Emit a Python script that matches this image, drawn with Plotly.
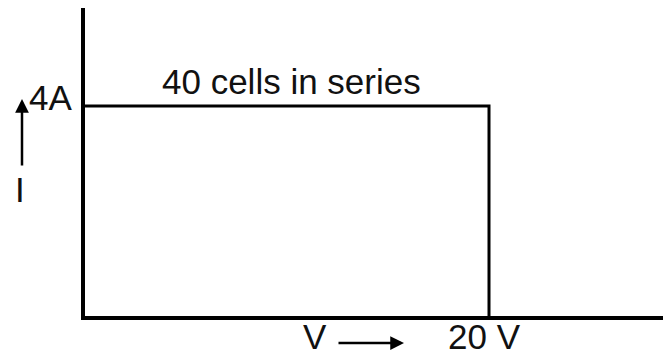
import plotly.graph_objects as go

# I-V characteristic of the module (ideal, rectangular)
volts = [0, 20, 20]
amps = [4, 4, 0]
x_tick_vals = [20]
x_tick_text = ['20 V']
y_tick_vals = [4]
y_tick_text = ['4A']
caption = '40 cells in series'

W, H = 663, 357
L, R, T, B = 85, 0, 8, 41
PW, PH = W - L - R, H - T - B
X_MAX = (W - L) / 20.2
Y_MAX = (H - B - T) / 52.5


def px(x):
    return (x - L) / PW


def py(y):
    return (H - B - y) / PH


FONT = dict(family='Liberation Sans, Arial, sans-serif', size=35, color='#111')

fig = go.Figure(go.Scatter(
    x=volts, y=amps, mode='lines',
    line=dict(color='black', width=3),
    cliponaxis=False, hoverinfo='skip'))

notes = [
    dict(text=caption, x=px(291), y=py(81)),
    dict(text=y_tick_text[0], x=px(50), y=py(97)),
    dict(text='I', x=px(20), y=py(189)),
]
for n in notes:
    fig.add_annotation(xref='paper', yref='paper', showarrow=False,
                       xanchor='center', yanchor='middle', font=FONT, **n)

# labels under the axis, kept inside the page
for text, x in [('V', 315), (x_tick_text[0], 484)]:
    fig.add_annotation(xref='paper', yref='paper', showarrow=False, text=text,
                       x=px(x), y=py(H), xanchor='center', yanchor='bottom',
                       borderpad=0, font=FONT)

# arrows next to the axis names
fig.add_annotation(xref='paper', yref='paper', x=px(22), y=py(99), ax=0, ay=68,
                   text='', showarrow=True, arrowhead=2, arrowsize=1.1,
                   arrowwidth=2.5, arrowcolor='black')
fig.add_annotation(xref='paper', yref='paper', x=px(404), y=py(343), ax=-67, ay=0,
                   text='', showarrow=True, arrowhead=2, arrowsize=1.1,
                   arrowwidth=2.5, arrowcolor='black')

fig.update_xaxes(range=[0, X_MAX], showline=True, linecolor='black', linewidth=3.5,
                 showgrid=False, zeroline=False, showticklabels=False, ticks='',
                 fixedrange=True)
fig.update_yaxes(range=[0, Y_MAX], showline=True, linecolor='black', linewidth=3.5,
                 showgrid=False, zeroline=False, showticklabels=False, ticks='',
                 fixedrange=True)
fig.update_layout(width=W, height=H, margin=dict(l=L, r=R, t=T, b=B),
                  plot_bgcolor='white', paper_bgcolor='white', showlegend=False)

fig.write_html('out.html', config={'displayModeBar': False},
               post_script="document.body.style.margin='0';")
